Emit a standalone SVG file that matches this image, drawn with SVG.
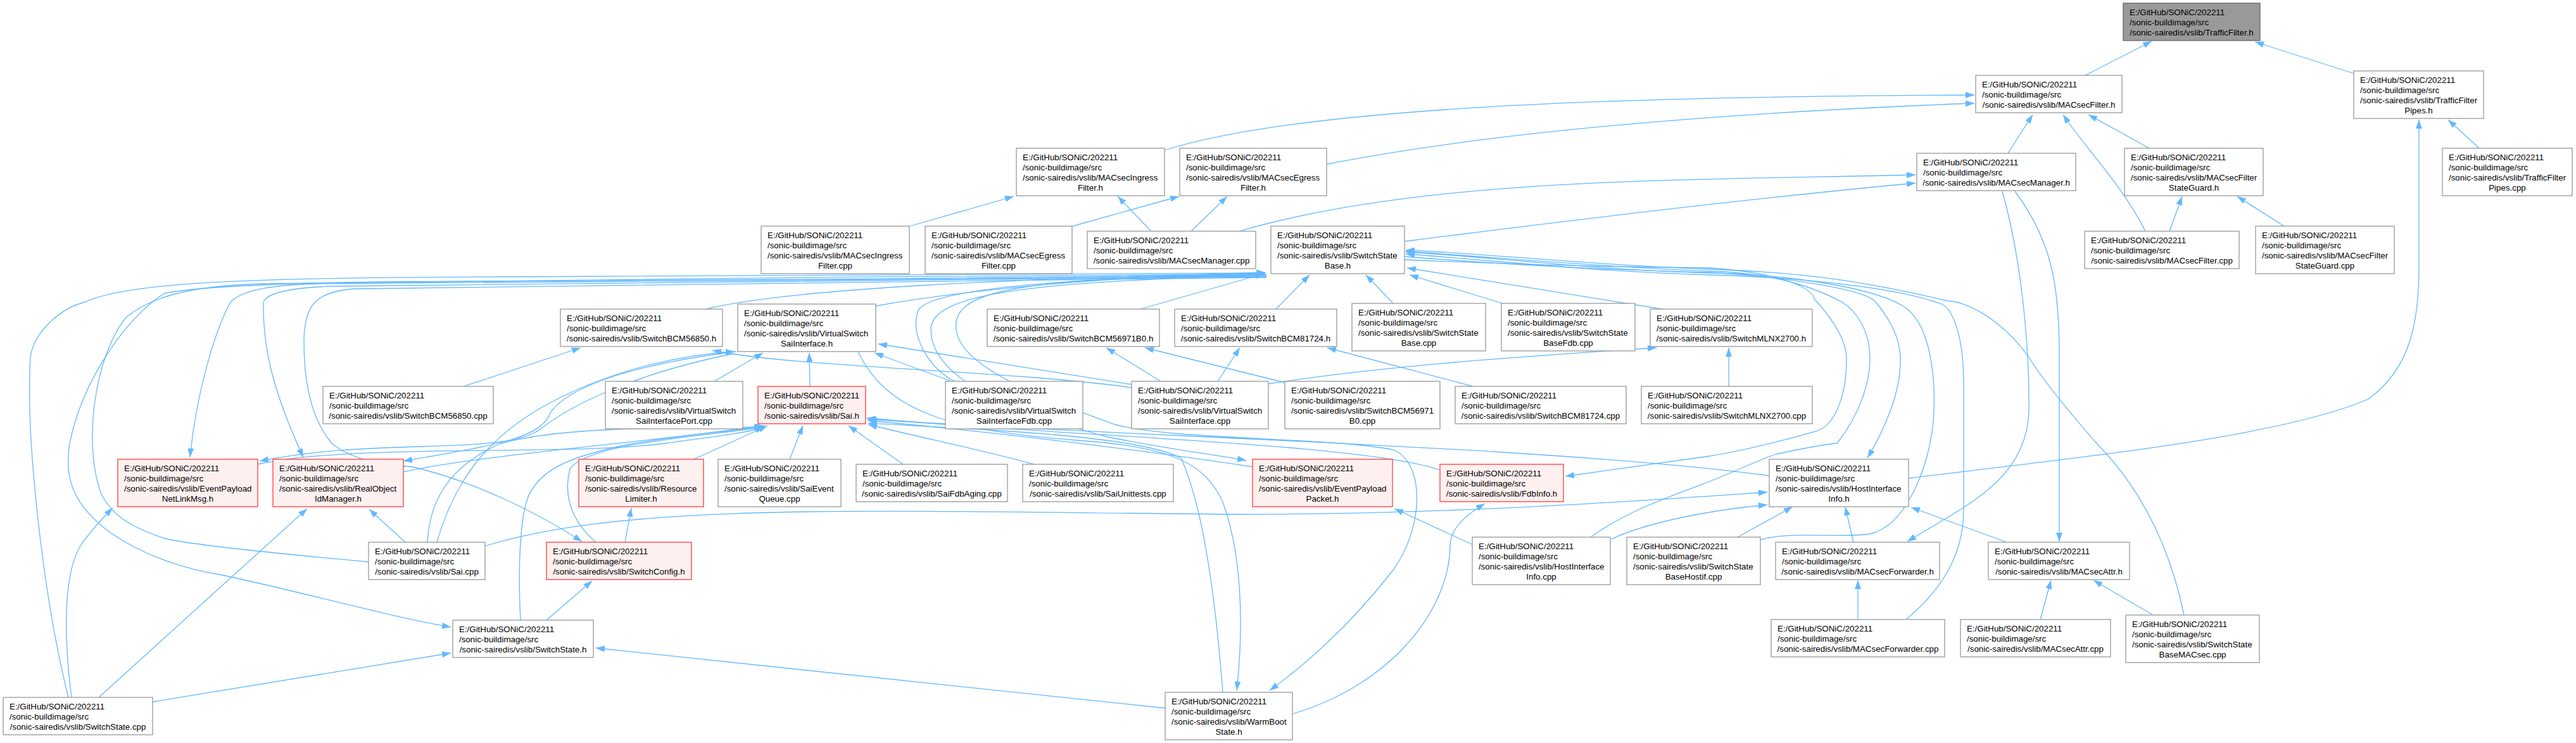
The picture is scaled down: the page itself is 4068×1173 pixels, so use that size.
<svg xmlns="http://www.w3.org/2000/svg" width="4068" height="1173" viewBox="0 0 4068 1173">
<defs>
<marker id="a" markerUnits="userSpaceOnUse" markerWidth="14" markerHeight="10" viewBox="0 0 14 10" refX="14" refY="5" orient="auto"><path d="M0,0 L14,5 L0,10 z" fill="#63B8FF"/></marker>
</defs>
<style>
.n rect{fill:#fff;stroke:#999;stroke-width:1.3}
.r rect{fill:#fff0f0;stroke:#ff3b3b}
.g rect{fill:#999;stroke:#666}
text{font-family:"Liberation Sans",Arial,Helvetica,sans-serif;font-size:13.33px;fill:#000}
.m{text-anchor:middle}
#edges path{fill:none;stroke:#63B8FF;stroke-width:1.3;marker-end:url(#a)}
</style>
<rect width="4068" height="1173" fill="#fff"/>
<g id="edges">
<path d="M3293,119 L3398,65"/>
<path d="M3717,116 L3561,66"/>
<path d="M1840,237 C2050,170 2550,152 3118,150"/>
<path d="M2096,259 C2400,200 2800,175 3118,163"/>
<path d="M3171,242 L3210,181"/>
<path d="M3388,365 C3350,290 3290,230 3258,181"/>
<path d="M3394,234 L3298,181"/>
<path d="M3915,234 L3866,189"/>
<path d="M3426,365 L3446,310"/>
<path d="M3607,357 L3533,310"/>
<path d="M3014,755 C3300,720 3600,690 3740,630 C3810,580 3820,500 3820,420 L3820,189"/>
<path d="M1437,357 L1601,310"/>
<path d="M1694,357 L1862,310"/>
<path d="M1818,365 L1765,310"/>
<path d="M1881,365 L1938,310"/>
<path d="M1957,365 C2250,280 2650,285 3025,276"/>
<path d="M2219,381 C2500,345 2800,310 3025,289"/>
<path d="M3162,302 C3195,420 3205,560 3204,650 C3200,760 3100,800 3012,855"/>
<path d="M3182,302 C3240,380 3252,450 3252,560 L3252,855"/>
<path d="M3169,856 L3018,801"/>
<path d="M2927,856 L2914,800"/>
<path d="M2744,848 L2831,800"/>
<path d="M2780,852 C2830,838 2900,850 2953,843 C3010,830 3045,740 3053,667 C3058,600 3050,510 3005,483 C2950,450 2800,432 2700,431 C2500,425 2350,405 2220,398"/>
<path d="M2934,978 L2934,916"/>
<path d="M3010,978 C3080,920 3102,860 3101,800 L3101,600 C3100,520 3080,485 3066,480 C3000,455 2850,438 2700,434 C2500,428 2350,410 2220,401"/>
<path d="M3449,971 C3430,880 3390,780 3311,700 C3250,630 3220,590 3206,567 C3160,500 3100,475 3075,475 C2950,445 2850,430 2700,425 C2500,418 2350,400 2220,395"/>
<path d="M3400,971 L3306,916"/>
<path d="M3222,978 L3239,916"/>
<path d="M2218,405 C2400,420 2600,428 2700,430 C2850,440 2950,460 2962,477 C2990,510 3001,540 3001,567 C3002,620 2975,680 2949,723"/>
<path d="M2218,410 C2400,418 2600,422 2700,423 C2800,430 2860,450 2866,473 C2900,510 2916,540 2916,567 C2916,620 2900,670 2870,680 C2800,700 2750,712 2700,720 L2472,752"/>
<path d="M2512,848 C2580,800 2650,780 2700,760 C2750,740 2780,725 2805,717 C2860,705 2895,700 2901,700 C2940,650 2953,600 2953,567 C2953,520 2930,490 2909,477 C2850,445 2780,430 2700,428 C2500,420 2350,405 2220,397"/>
<path d="M2545,851 C2600,825 2700,805 2791,797"/>
<path d="M766,862 C1000,790 1400,808 1960,812 C2300,812 2600,790 2791,777"/>
<path d="M2794,751 C2450,705 1800,690 1370,662"/>
<path d="M2326,860 L2202,803"/>
<path d="M2041,1127 C2200,1080 2290,960 2290,860 C2292,830 2320,810 2345,795"/>
<path d="M1840,1118 L941,1023"/>
<path d="M863,979 L935,917"/>
<path d="M241,1108 L712,1031"/>
<path d="M113,1101 C100,1000 100,900 130,857 C150,830 165,815 178,802"/>
<path d="M156,1101 L485,803"/>
<path d="M108,1101 C70,950 40,700 48,563 C55,520 100,485 134,477 C200,445 400,438 800,437 C1300,436 1700,434 1998,431"/>
<path d="M2000,434 C1600,440 900,443 600,445 C400,448 300,455 260,463 C200,500 130,600 110,700 C100,760 120,800 173,840 C230,880 300,900 347,907 C500,940 620,975 712,990"/>
<path d="M581,887 C450,875 300,860 260,850 C200,830 175,810 160,780 C130,700 150,560 200,500 C250,460 330,450 420,448 C800,440 1500,436 1998,433"/>
<path d="M2000,436 C1500,441 800,445 500,448 C420,450 380,460 364,477 C340,520 310,620 300,722"/>
<path d="M2000,437 C1500,442 800,447 520,452 C450,455 420,465 416,477 C415,540 426,607 479,722"/>
<path d="M2000,438 C1500,445 800,450 560,456 C500,460 480,480 480,540 C480,600 490,660 524,700 C560,730 620,735 651,737 C750,760 850,810 919,855"/>
<path d="M640,856 L583,804"/>
<path d="M675,856 C678,800 700,740 791,700 C900,670 1100,677 1205,674"/>
<path d="M690,856 C720,750 780,680 880,630 C980,580 1080,560 1160,555"/>
<path d="M1163,555 C1000,575 900,610 870,650 C855,690 800,700 637,728"/>
<path d="M1160,558 C1000,590 900,640 850,680 C780,720 600,690 410,728"/>
<path d="M407,733 C550,700 900,720 1050,700 C1120,690 1170,685 1207,675"/>
<path d="M637,745 C750,720 1000,700 1205,673"/>
<path d="M941,856 C900,820 890,780 900,740 C930,700 1100,690 1207,674"/>
<path d="M822,979 C818,900 820,800 840,773 C860,740 900,720 1000,700 C1100,685 1180,676 1207,672"/>
<path d="M1096,725 L1212,672"/>
<path d="M1247,725 L1268,672"/>
<path d="M1426,733 L1340,672"/>
<path d="M1633,733 C1550,710 1450,690 1371,670"/>
<path d="M1978,737 C1800,710 1550,680 1371,664"/>
<path d="M2274,742 C2150,700 1700,690 1369,660"/>
<path d="M1931,1093 C1920,950 1900,800 1865,723 C1800,690 1600,680 1371,668"/>
<path d="M987,856 L997,802"/>
<path d="M1114,488 C1250,455 1600,440 1998,431"/>
<path d="M1383,483 C1600,445 1850,435 1998,430"/>
<path d="M1801,488 L1996,432"/>
<path d="M2015,488 L2068,434"/>
<path d="M2200,479 L2157,434"/>
<path d="M2373,479 L2226,434"/>
<path d="M2625,488 L2222,423"/>
<path d="M732,610 L917,549"/>
<path d="M1128,602 L1205,557"/>
<path d="M1279,610 L1278,557"/>
<path d="M1502,602 L1381,557"/>
<path d="M1787,607 L1387,543"/>
<path d="M1787,612 C1600,585 1250,580 1125,553"/>
<path d="M1833,602 L1747,549"/>
<path d="M1923,602 L1958,549"/>
<path d="M2003,606 C2200,575 2450,560 2616,549"/>
<path d="M2029,604 L1808,549"/>
<path d="M2326,610 L2096,549"/>
<path d="M2730,610 L2730,549"/>
<path d="M1508,602 C1470,585 1435,530 1450,490 C1470,455 1700,438 1998,432"/>
<path d="M2000,434 C1650,440 1500,450 1510,520 C1515,580 1650,630 1760,670 C1850,695 2100,690 2200,710 C2250,730 2250,830 2200,900 C2130,990 2060,1050 2005,1090"/>
<path d="M1355,555 C1400,650 1500,680 1700,695 C1850,705 1900,730 1930,790 C1960,870 1965,980 1953,1090"/>
<path d="M2000,434 C1650,445 1470,460 1470,520 C1470,600 1600,650 1750,690 C1850,710 1920,718 1968,727"/>
</g>
<g id="n0" class="n g"><rect x="3353" y="5" width="216" height="59"/><text x="3363" y="23.5">E:/GitHub/SONiC/202211</text><text x="3363" y="39.5">/sonic-buildimage/src</text><text class="m" x="3461" y="55.5">/sonic-sairedis/vslib/TrafficFilter.h</text></g>
<g id="n1" class="n"><rect x="3120" y="119" width="231" height="59"/><text x="3130" y="137.5">E:/GitHub/SONiC/202211</text><text x="3130" y="153.5">/sonic-buildimage/src</text><text class="m" x="3235.5" y="169.5">/sonic-sairedis/vslib/MACsecFilter.h</text></g>
<g id="n2" class="n"><rect x="3717" y="112" width="205" height="75"/><text x="3727" y="130.5">E:/GitHub/SONiC/202211</text><text x="3727" y="146.5">/sonic-buildimage/src</text><text x="3727" y="162.5">/sonic-sairedis/vslib/TrafficFilter</text><text class="m" x="3819.5" y="178.5">Pipes.h</text></g>
<g id="n3" class="n"><rect x="3027" y="242" width="251" height="59"/><text x="3037" y="260.5">E:/GitHub/SONiC/202211</text><text x="3037" y="276.5">/sonic-buildimage/src</text><text class="m" x="3152.5" y="292.5">/sonic-sairedis/vslib/MACsecManager.h</text></g>
<g id="n4" class="n"><rect x="3355" y="234" width="219" height="75"/><text x="3365" y="252.5">E:/GitHub/SONiC/202211</text><text x="3365" y="268.5">/sonic-buildimage/src</text><text x="3365" y="284.5">/sonic-sairedis/vslib/MACsecFilter</text><text class="m" x="3464.5" y="300.5">StateGuard.h</text></g>
<g id="n5" class="n"><rect x="3857" y="234" width="205" height="75"/><text x="3867" y="252.5">E:/GitHub/SONiC/202211</text><text x="3867" y="268.5">/sonic-buildimage/src</text><text x="3867" y="284.5">/sonic-sairedis/vslib/TrafficFilter</text><text class="m" x="3959.5" y="300.5">Pipes.cpp</text></g>
<g id="n6" class="n"><rect x="1605" y="234" width="234" height="75"/><text x="1615" y="252.5">E:/GitHub/SONiC/202211</text><text x="1615" y="268.5">/sonic-buildimage/src</text><text x="1615" y="284.5">/sonic-sairedis/vslib/MACsecIngress</text><text class="m" x="1722" y="300.5">Filter.h</text></g>
<g id="n7" class="n"><rect x="1863" y="234" width="232" height="75"/><text x="1873" y="252.5">E:/GitHub/SONiC/202211</text><text x="1873" y="268.5">/sonic-buildimage/src</text><text x="1873" y="284.5">/sonic-sairedis/vslib/MACsecEgress</text><text class="m" x="1979" y="300.5">Filter.h</text></g>
<g id="n8" class="n"><rect x="1202" y="357" width="234" height="75"/><text x="1212" y="375.5">E:/GitHub/SONiC/202211</text><text x="1212" y="391.5">/sonic-buildimage/src</text><text x="1212" y="407.5">/sonic-sairedis/vslib/MACsecIngress</text><text class="m" x="1319" y="423.5">Filter.cpp</text></g>
<g id="n9" class="n"><rect x="1461" y="357" width="232" height="75"/><text x="1471" y="375.5">E:/GitHub/SONiC/202211</text><text x="1471" y="391.5">/sonic-buildimage/src</text><text x="1471" y="407.5">/sonic-sairedis/vslib/MACsecEgress</text><text class="m" x="1577" y="423.5">Filter.cpp</text></g>
<g id="n10" class="n"><rect x="1717" y="365" width="266" height="59"/><text x="1727" y="383.5">E:/GitHub/SONiC/202211</text><text x="1727" y="399.5">/sonic-buildimage/src</text><text class="m" x="1850" y="415.5">/sonic-sairedis/vslib/MACsecManager.cpp</text></g>
<g id="n11" class="n"><rect x="2007" y="357" width="211" height="75"/><text x="2017" y="375.5">E:/GitHub/SONiC/202211</text><text x="2017" y="391.5">/sonic-buildimage/src</text><text x="2017" y="407.5">/sonic-sairedis/vslib/SwitchState</text><text class="m" x="2112.5" y="423.5">Base.h</text></g>
<g id="n12" class="n"><rect x="3292" y="365" width="244" height="59"/><text x="3302" y="383.5">E:/GitHub/SONiC/202211</text><text x="3302" y="399.5">/sonic-buildimage/src</text><text class="m" x="3414" y="415.5">/sonic-sairedis/vslib/MACsecFilter.cpp</text></g>
<g id="n13" class="n"><rect x="3562" y="357" width="219" height="75"/><text x="3572" y="375.5">E:/GitHub/SONiC/202211</text><text x="3572" y="391.5">/sonic-buildimage/src</text><text x="3572" y="407.5">/sonic-sairedis/vslib/MACsecFilter</text><text class="m" x="3671.5" y="423.5">StateGuard.cpp</text></g>
<g id="n14" class="n"><rect x="885" y="488" width="256" height="59"/><text x="895" y="506.5">E:/GitHub/SONiC/202211</text><text x="895" y="522.5">/sonic-buildimage/src</text><text class="m" x="1013" y="538.5">/sonic-sairedis/vslib/SwitchBCM56850.h</text></g>
<g id="n15" class="n"><rect x="1165" y="480" width="218" height="75"/><text x="1175" y="498.5">E:/GitHub/SONiC/202211</text><text x="1175" y="514.5">/sonic-buildimage/src</text><text x="1175" y="530.5">/sonic-sairedis/vslib/VirtualSwitch</text><text class="m" x="1274" y="546.5">SaiInterface.h</text></g>
<g id="n16" class="n"><rect x="1559" y="488" width="272" height="59"/><text x="1569" y="506.5">E:/GitHub/SONiC/202211</text><text x="1569" y="522.5">/sonic-buildimage/src</text><text class="m" x="1695" y="538.5">/sonic-sairedis/vslib/SwitchBCM56971B0.h</text></g>
<g id="n17" class="n"><rect x="1855" y="488" width="256" height="59"/><text x="1865" y="506.5">E:/GitHub/SONiC/202211</text><text x="1865" y="522.5">/sonic-buildimage/src</text><text class="m" x="1983" y="538.5">/sonic-sairedis/vslib/SwitchBCM81724.h</text></g>
<g id="n18" class="n"><rect x="2135" y="479" width="211" height="75"/><text x="2145" y="497.5">E:/GitHub/SONiC/202211</text><text x="2145" y="513.5">/sonic-buildimage/src</text><text x="2145" y="529.5">/sonic-sairedis/vslib/SwitchState</text><text class="m" x="2240.5" y="545.5">Base.cpp</text></g>
<g id="n19" class="n"><rect x="2371" y="479" width="211" height="75"/><text x="2381" y="497.5">E:/GitHub/SONiC/202211</text><text x="2381" y="513.5">/sonic-buildimage/src</text><text x="2381" y="529.5">/sonic-sairedis/vslib/SwitchState</text><text class="m" x="2476.5" y="545.5">BaseFdb.cpp</text></g>
<g id="n20" class="n"><rect x="2606" y="488" width="256" height="59"/><text x="2616" y="506.5">E:/GitHub/SONiC/202211</text><text x="2616" y="522.5">/sonic-buildimage/src</text><text class="m" x="2734" y="538.5">/sonic-sairedis/vslib/SwitchMLNX2700.h</text></g>
<g id="n21" class="n"><rect x="510" y="610" width="269" height="59"/><text x="520" y="628.5">E:/GitHub/SONiC/202211</text><text x="520" y="644.5">/sonic-buildimage/src</text><text class="m" x="644.5" y="660.5">/sonic-sairedis/vslib/SwitchBCM56850.cpp</text></g>
<g id="n22" class="n"><rect x="956" y="602" width="217" height="75"/><text x="966" y="620.5">E:/GitHub/SONiC/202211</text><text x="966" y="636.5">/sonic-buildimage/src</text><text x="966" y="652.5">/sonic-sairedis/vslib/VirtualSwitch</text><text class="m" x="1064.5" y="668.5">SaiInterfacePort.cpp</text></g>
<g id="n23" class="n r"><rect x="1197" y="610" width="170" height="59"/><text x="1207" y="628.5">E:/GitHub/SONiC/202211</text><text x="1207" y="644.5">/sonic-buildimage/src</text><text class="m" x="1282" y="660.5">/sonic-sairedis/vslib/Sai.h</text></g>
<g id="n24" class="n"><rect x="1493" y="602" width="217" height="75"/><text x="1503" y="620.5">E:/GitHub/SONiC/202211</text><text x="1503" y="636.5">/sonic-buildimage/src</text><text x="1503" y="652.5">/sonic-sairedis/vslib/VirtualSwitch</text><text class="m" x="1601.5" y="668.5">SaiInterfaceFdb.cpp</text></g>
<g id="n25" class="n"><rect x="1787" y="602" width="216" height="75"/><text x="1797" y="620.5">E:/GitHub/SONiC/202211</text><text x="1797" y="636.5">/sonic-buildimage/src</text><text x="1797" y="652.5">/sonic-sairedis/vslib/VirtualSwitch</text><text class="m" x="1895" y="668.5">SaiInterface.cpp</text></g>
<g id="n26" class="n"><rect x="2029" y="602" width="245" height="75"/><text x="2039" y="620.5">E:/GitHub/SONiC/202211</text><text x="2039" y="636.5">/sonic-buildimage/src</text><text x="2039" y="652.5">/sonic-sairedis/vslib/SwitchBCM56971</text><text class="m" x="2151.5" y="668.5">B0.cpp</text></g>
<g id="n27" class="n"><rect x="2298" y="610" width="270" height="59"/><text x="2308" y="628.5">E:/GitHub/SONiC/202211</text><text x="2308" y="644.5">/sonic-buildimage/src</text><text class="m" x="2433" y="660.5">/sonic-sairedis/vslib/SwitchBCM81724.cpp</text></g>
<g id="n28" class="n"><rect x="2592" y="610" width="270" height="59"/><text x="2602" y="628.5">E:/GitHub/SONiC/202211</text><text x="2602" y="644.5">/sonic-buildimage/src</text><text class="m" x="2727" y="660.5">/sonic-sairedis/vslib/SwitchMLNX2700.cpp</text></g>
<g id="n29" class="n r"><rect x="186" y="725" width="221" height="75"/><text x="196" y="743.5">E:/GitHub/SONiC/202211</text><text x="196" y="759.5">/sonic-buildimage/src</text><text x="196" y="775.5">/sonic-sairedis/vslib/EventPayload</text><text class="m" x="296.5" y="791.5">NetLinkMsg.h</text></g>
<g id="n30" class="n r"><rect x="431" y="725" width="206" height="75"/><text x="441" y="743.5">E:/GitHub/SONiC/202211</text><text x="441" y="759.5">/sonic-buildimage/src</text><text x="441" y="775.5">/sonic-sairedis/vslib/RealObject</text><text class="m" x="534" y="791.5">IdManager.h</text></g>
<g id="n31" class="n r"><rect x="914" y="725" width="197" height="75"/><text x="924" y="743.5">E:/GitHub/SONiC/202211</text><text x="924" y="759.5">/sonic-buildimage/src</text><text x="924" y="775.5">/sonic-sairedis/vslib/Resource</text><text class="m" x="1012.5" y="791.5">Limiter.h</text></g>
<g id="n32" class="n"><rect x="1134" y="725" width="194" height="75"/><text x="1144" y="743.5">E:/GitHub/SONiC/202211</text><text x="1144" y="759.5">/sonic-buildimage/src</text><text x="1144" y="775.5">/sonic-sairedis/vslib/SaiEvent</text><text class="m" x="1231" y="791.5">Queue.cpp</text></g>
<g id="n33" class="n"><rect x="1352" y="733" width="239" height="59"/><text x="1362" y="751.5">E:/GitHub/SONiC/202211</text><text x="1362" y="767.5">/sonic-buildimage/src</text><text class="m" x="1471.5" y="783.5">/sonic-sairedis/vslib/SaiFdbAging.cpp</text></g>
<g id="n34" class="n"><rect x="1615" y="733" width="238" height="59"/><text x="1625" y="751.5">E:/GitHub/SONiC/202211</text><text x="1625" y="767.5">/sonic-buildimage/src</text><text class="m" x="1734" y="783.5">/sonic-sairedis/vslib/SaiUnittests.cpp</text></g>
<g id="n35" class="n r"><rect x="1978" y="725" width="221" height="75"/><text x="1988" y="743.5">E:/GitHub/SONiC/202211</text><text x="1988" y="759.5">/sonic-buildimage/src</text><text x="1988" y="775.5">/sonic-sairedis/vslib/EventPayload</text><text class="m" x="2088.5" y="791.5">Packet.h</text></g>
<g id="n36" class="n r"><rect x="2274" y="733" width="195" height="59"/><text x="2284" y="751.5">E:/GitHub/SONiC/202211</text><text x="2284" y="767.5">/sonic-buildimage/src</text><text class="m" x="2371.5" y="783.5">/sonic-sairedis/vslib/FdbInfo.h</text></g>
<g id="n37" class="n"><rect x="2794" y="725" width="220" height="75"/><text x="2804" y="743.5">E:/GitHub/SONiC/202211</text><text x="2804" y="759.5">/sonic-buildimage/src</text><text x="2804" y="775.5">/sonic-sairedis/vslib/HostInterface</text><text class="m" x="2904" y="791.5">Info.h</text></g>
<g id="n38" class="n"><rect x="582" y="856" width="184" height="59"/><text x="592" y="874.5">E:/GitHub/SONiC/202211</text><text x="592" y="890.5">/sonic-buildimage/src</text><text class="m" x="674" y="906.5">/sonic-sairedis/vslib/Sai.cpp</text></g>
<g id="n39" class="n r"><rect x="863" y="856" width="229" height="59"/><text x="873" y="874.5">E:/GitHub/SONiC/202211</text><text x="873" y="890.5">/sonic-buildimage/src</text><text class="m" x="977.5" y="906.5">/sonic-sairedis/vslib/SwitchConfig.h</text></g>
<g id="n40" class="n"><rect x="2325" y="848" width="218" height="75"/><text x="2335" y="866.5">E:/GitHub/SONiC/202211</text><text x="2335" y="882.5">/sonic-buildimage/src</text><text x="2335" y="898.5">/sonic-sairedis/vslib/HostInterface</text><text class="m" x="2434" y="914.5">Info.cpp</text></g>
<g id="n41" class="n"><rect x="2569" y="848" width="211" height="75"/><text x="2579" y="866.5">E:/GitHub/SONiC/202211</text><text x="2579" y="882.5">/sonic-buildimage/src</text><text x="2579" y="898.5">/sonic-sairedis/vslib/SwitchState</text><text class="m" x="2674.5" y="914.5">BaseHostif.cpp</text></g>
<g id="n42" class="n"><rect x="2804" y="856" width="259" height="59"/><text x="2814" y="874.5">E:/GitHub/SONiC/202211</text><text x="2814" y="890.5">/sonic-buildimage/src</text><text class="m" x="2933.5" y="906.5">/sonic-sairedis/vslib/MACsecForwarder.h</text></g>
<g id="n43" class="n"><rect x="3140" y="856" width="223" height="59"/><text x="3150" y="874.5">E:/GitHub/SONiC/202211</text><text x="3150" y="890.5">/sonic-buildimage/src</text><text class="m" x="3251.5" y="906.5">/sonic-sairedis/vslib/MACsecAttr.h</text></g>
<g id="n44" class="n"><rect x="715" y="979" width="222" height="59"/><text x="725" y="997.5">E:/GitHub/SONiC/202211</text><text x="725" y="1013.5">/sonic-buildimage/src</text><text class="m" x="826" y="1029.5">/sonic-sairedis/vslib/SwitchState.h</text></g>
<g id="n45" class="n"><rect x="2797" y="978" width="274" height="59"/><text x="2807" y="996.5">E:/GitHub/SONiC/202211</text><text x="2807" y="1012.5">/sonic-buildimage/src</text><text class="m" x="2934" y="1028.5">/sonic-sairedis/vslib/MACsecForwarder.cpp</text></g>
<g id="n46" class="n"><rect x="3096" y="978" width="237" height="59"/><text x="3106" y="996.5">E:/GitHub/SONiC/202211</text><text x="3106" y="1012.5">/sonic-buildimage/src</text><text class="m" x="3214.5" y="1028.5">/sonic-sairedis/vslib/MACsecAttr.cpp</text></g>
<g id="n47" class="n"><rect x="3357" y="971" width="211" height="75"/><text x="3367" y="989.5">E:/GitHub/SONiC/202211</text><text x="3367" y="1005.5">/sonic-buildimage/src</text><text x="3367" y="1021.5">/sonic-sairedis/vslib/SwitchState</text><text class="m" x="3462.5" y="1037.5">BaseMACsec.cpp</text></g>
<g id="n48" class="n"><rect x="5" y="1101" width="236" height="59"/><text x="15" y="1119.5">E:/GitHub/SONiC/202211</text><text x="15" y="1135.5">/sonic-buildimage/src</text><text class="m" x="123" y="1151.5">/sonic-sairedis/vslib/SwitchState.cpp</text></g>
<g id="n49" class="n"><rect x="1840" y="1093" width="201" height="75"/><text x="1850" y="1111.5">E:/GitHub/SONiC/202211</text><text x="1850" y="1127.5">/sonic-buildimage/src</text><text x="1850" y="1143.5">/sonic-sairedis/vslib/WarmBoot</text><text class="m" x="1940.5" y="1159.5">State.h</text></g>
</svg>
